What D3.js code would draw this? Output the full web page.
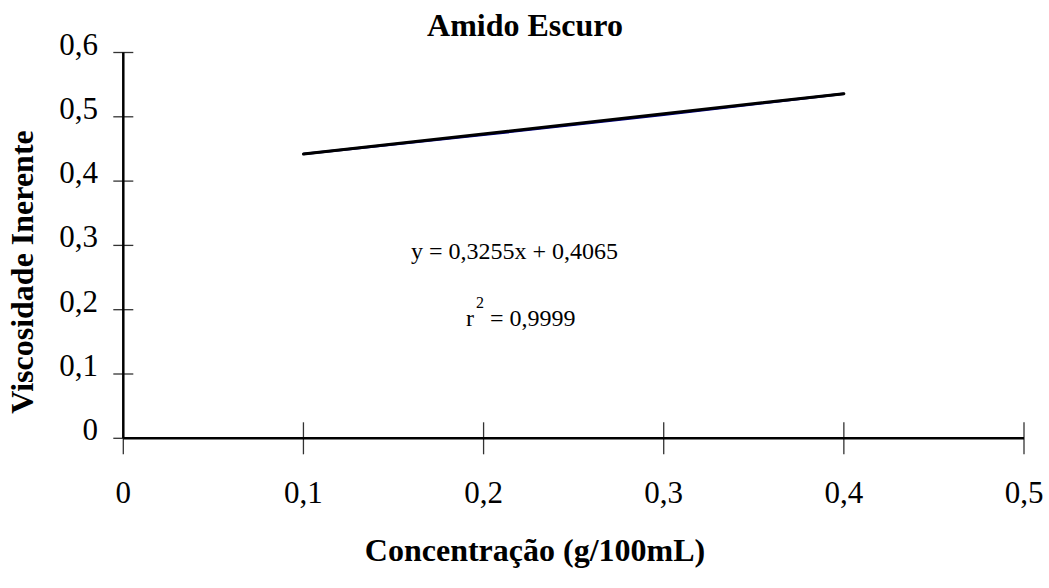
<!DOCTYPE html>
<html>
<head>
<meta charset="utf-8">
<script src="https://cdn.jsdelivr.net/npm/d3@7"></script>
<style>
  html, body { margin: 0; padding: 0; background: #fff; }
  svg { display: block; }
  text { font-family: "Liberation Serif", "Times New Roman", serif; fill: #000; }
</style>
</head>
<body>
<svg id="chart" width="1049" height="588"></svg>
<script>
// ---- data ----
const concentrations = [0.1, 0.2, 0.3, 0.4];
const viscosity = [0.442, 0.472, 0.503, 0.536];
const trendX = [0.1, 0.4];
const trendY = [0.442, 0.536];
const xTicks = [0, 0.1, 0.2, 0.3, 0.4, 0.5];
const yTicks = [0, 0.1, 0.2, 0.3, 0.4, 0.5, 0.6];
const title = "Amido Escuro";
const xTitle = "Concentração (g/100mL)";
const yTitle = "Viscosidade Inerente";
const equation = "y = 0,3255x + 0,4065";
const r2Value = " = 0,9999";

// ---- layout ----
const svg = d3.select("#chart");
const x = d3.scaleLinear().domain([0, 0.5]).range([123.3, 1024]);
const y = d3.scaleLinear().domain([0, 0.6]).range([438.3, 52.5]);
const fmt = v => (v === 0 ? "0" : d3.format(".1f")(v).replace(".", ","));

// y-axis ticks (cross the axis)
svg.append("g").selectAll("line").data(yTicks).join("line")
  .attr("x1", x(0) - 10).attr("x2", x(0) + 10)
  .attr("y1", d => y(d)).attr("y2", d => y(d))
  .attr("stroke", "#333").attr("stroke-width", 1.3);

// x-axis ticks (cross the axis)
svg.append("g").selectAll("line").data(xTicks).join("line")
  .attr("x1", d => x(d)).attr("x2", d => x(d))
  .attr("y1", d => d === 0 ? y(0) : y(0) - 16).attr("y2", y(0) + 16)
  .attr("stroke", "#333").attr("stroke-width", 1.3);

// axis lines
svg.append("line")
  .attr("x1", x(0)).attr("x2", x(0)).attr("y1", y(0.6)).attr("y2", y(0))
  .attr("stroke", "#000").attr("stroke-width", 2.5);
svg.append("line")
  .attr("x1", x(0)).attr("x2", x(0.5)).attr("y1", y(0)).attr("y2", y(0))
  .attr("stroke", "#000").attr("stroke-width", 2.5);

// tick labels
svg.append("g").selectAll("text").data(yTicks).join("text")
  .attr("x", 98).attr("y", d => y(d) + 2)
  .attr("text-anchor", "end").attr("font-size", 31)
  .text(fmt);
svg.append("g").selectAll("text").data(xTicks).join("text")
  .attr("x", d => x(d)).attr("y", 503)
  .attr("text-anchor", "middle").attr("font-size", 31)
  .text(fmt);

// data line (navy) and trend line (black)
const line = d3.line().x(d => x(d[0])).y(d => y(d[1]));
svg.append("path")
  .datum(concentrations.map((c, i) => [c, viscosity[i]]))
  .attr("d", line).attr("fill", "none")
  .attr("stroke", "#000080").attr("stroke-width", 2.5);
svg.append("path")
  .datum(trendX.map((c, i) => [c, trendY[i]]))
  .attr("d", line).attr("fill", "none")
  .attr("stroke", "#000").attr("stroke-width", 3).attr("stroke-linecap", "round");

// titles
svg.append("text").attr("x", 525).attr("y", 36)
  .attr("text-anchor", "middle").attr("font-size", 32).attr("font-weight", "bold")
  .text(title);
svg.append("text").attr("x", 535).attr("y", 561)
  .attr("text-anchor", "middle").attr("font-size", 32).attr("font-weight", "bold")
  .text(xTitle);
svg.append("text").attr("transform", "translate(33,272) rotate(-90)")
  .attr("text-anchor", "middle").attr("font-size", 32).attr("font-weight", "bold")
  .text(yTitle);

// equation annotation
svg.append("text").attr("x", 411).attr("y", 259).attr("font-size", 24).text(equation);
const r2 = svg.append("text").attr("x", 466).attr("y", 326).attr("font-size", 24);
r2.append("tspan").text("r");
r2.append("tspan").attr("dx", 2).attr("dy", -18).attr("font-size", 16).text("2");
r2.append("tspan").attr("dy", 18).text(r2Value);
</script>
</body>
</html>
